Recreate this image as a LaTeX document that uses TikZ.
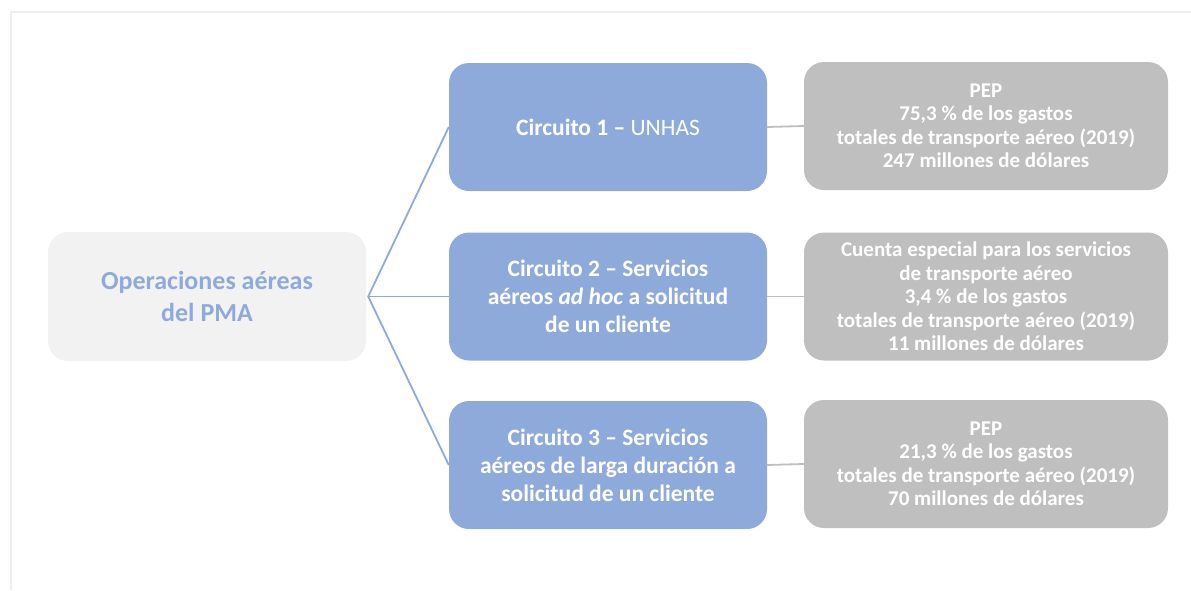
\documentclass[tikz,border=0pt]{standalone}
\usepackage{fontspec}
\setmainfont{Carlito}
\definecolor{blu}{HTML}{8EAADB}
\definecolor{gry}{HTML}{BFBFBF}
\definecolor{lgry}{HTML}{F2F2F2}
\definecolor{frm}{HTML}{EFEFEF}
\begin{document}
\begin{tikzpicture}[x=1pt,y=-1pt,
  rootbox/.style={rectangle, rounded corners=20pt, fill=lgry, text=blu, minimum width=318pt, minimum height=129pt, inner sep=0pt, align=center, font=\fontsize{26}{32}\selectfont\bfseries},
  circbox/.style={rectangle, rounded corners=20pt, fill=blu, text=white, minimum width=318pt, minimum height=128pt, inner sep=0pt, align=center, font=\fontsize{23.5}{28}\selectfont\bfseries},
  infobox/.style={rectangle, rounded corners=20pt, fill=gry, text=white, minimum width=364pt, minimum height=128pt, inner sep=0pt, align=center, font=\fontsize{21}{23.5}\selectfont\bfseries},
  bluline/.style={draw=blu, line width=1.8pt},
  gryline/.style={draw=gry, line width=1.8pt}]
\useasboundingbox (0,0) rectangle (1191,590);
\draw[frm, line width=2pt] (10.5,590) -- (10.5,11.5) -- (1191,11.5);
\node[rootbox] (root) at (207,296.5) {Operaciones aéreas\\del PMA};
\node[circbox] (c1) at (608,127) {Circuito 1 -- \mdseries UNHAS};
\node[circbox] (c2) at (608,296.5) {Circuito 2 -- Servicios\\aéreos \textit{ad hoc} a solicitud\\de un cliente};
\node[circbox] (c3) at (608,465) {Circuito 3 -- Servicios\\aéreos de larga duración a\\solicitud de un cliente};
\node[infobox] (p1) at (986,126) {PEP\\75,3 \% de los gastos\\totales de transporte aéreo (2019)\\247 millones de dólares};
\node[infobox] (p2) at (986,296.5) {Cuenta especial para los servicios\\de transporte aéreo\\3,4 \% de los gastos\\totales de transporte aéreo (2019)\\11 millones de dólares};
\node[infobox] (p3) at (986,464) {PEP\\21,3 \% de los gastos\\totales de transporte aéreo (2019)\\70 millones de dólares};
\coordinate (hub) at ([xshift=2pt]root.east);
\draw[bluline] (c1.west) -- (hub) -- (c3.west);
\draw[bluline] (hub) -- (c2.west);
\draw[gryline] (c1.east) -- (p1.west);
\draw[gryline] (c2.east) -- (p2.west);
\draw[gryline] (c3.east) -- (p3.west);
\end{tikzpicture}
\end{document}
